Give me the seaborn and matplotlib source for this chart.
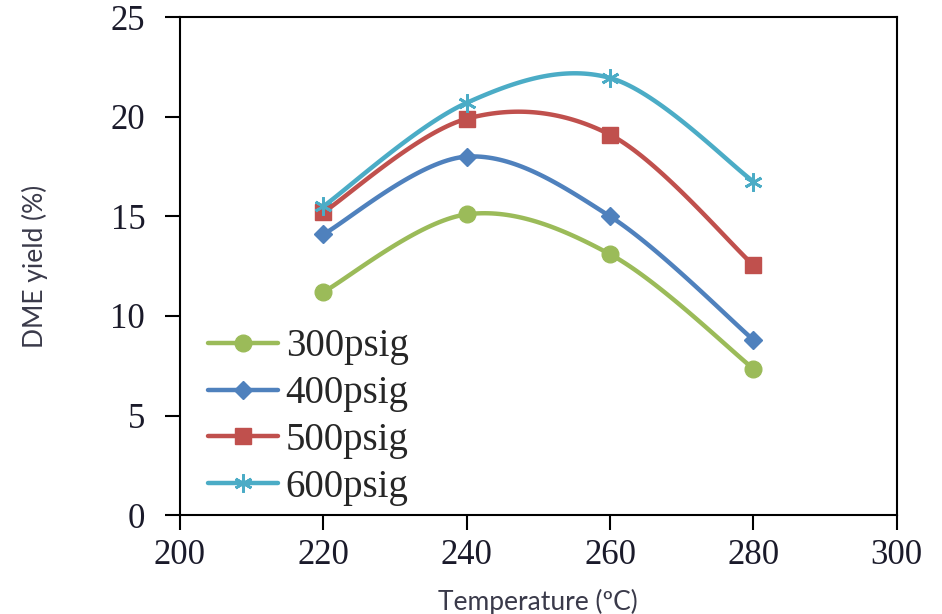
import numpy as np
import pandas as pd
import matplotlib
matplotlib.use("Agg")
import matplotlib.pyplot as plt
from matplotlib.lines import Line2D
import seaborn as sns

# values
temperature = [220, 240, 260, 280]
y_300 = [11.2, 15.1, 13.1, 7.35]
y_400 = [14.1, 18.0, 15.0, 8.8]
y_500 = [15.2, 19.9, 19.1, 12.55]
y_600 = [15.5, 20.7, 21.95, 16.75]
labels = ["300psig", "400psig", "500psig", "600psig"]
colors = ["#9BBB59", "#4F81BD", "#C0504D", "#4BACC6"]
markers = ["o", "D", "s", (6, 2, 0)]
msizes = [12, 9, 12, 13]


def smooth(xs, ys, n=40):
    # Excel-style smoothed line (Bezier through the points)
    p = np.column_stack([xs, ys]).astype(float)
    p = np.vstack([p[0], p, p[-1]])
    out = []
    for i in range(1, len(p) - 2):
        p0, p1, p2, p3 = p[i - 1], p[i], p[i + 1], p[i + 2]
        b1 = p1 + (p2 - p0) / 6
        b2 = p2 - (p3 - p1) / 6
        t = np.linspace(0, 1, n)[:, None]
        seg = ((1 - t) ** 3) * p1 + 3 * ((1 - t) ** 2) * t * b1 + 3 * (1 - t) * t ** 2 * b2 + t ** 3 * p2
        out.append(seg if i == 1 else seg[1:])
    out = np.vstack(out)
    return out[:, 0], out[:, 1]


sns.set_style("white")
fig = plt.figure(figsize=(9.42, 6.14), dpi=100)
ax = fig.add_axes([0.191, 0.161, 0.761, 0.811])

series = [y_300, y_400, y_500, y_600]
handles = []
for ys, lab, c, m, ms in zip(series, labels, colors, markers, msizes):
    sx, sy = smooth(temperature, ys)
    df = pd.DataFrame({"x": sx, "y": sy})
    sns.lineplot(data=df, x="x", y="y", sort=False, estimator=None, color=c, linewidth=3.2, ax=ax)
    ax.plot(temperature, ys, linestyle="none", marker=m, markersize=ms, color=c,
            markeredgecolor=c, markeredgewidth=2 if m == (6, 2, 0) else 1)
    handles.append(Line2D([0], [0], color=c, linewidth=3.2, marker=m, markersize=ms,
                          markeredgecolor=c, markeredgewidth=2 if m == (6, 2, 0) else 1))

ax.set_xlim(200, 300)
ax.set_ylim(0, 25)
ax.set_xticks([200, 220, 240, 260, 280, 300])
ax.set_yticks([0, 5, 10, 15, 20, 25])

for s in ax.spines.values():
    s.set_visible(True)
    s.set_color("black")
    s.set_linewidth(1.5)

ax.tick_params(axis="both", direction="out", length=11, width=1.5, color="black",
               labelsize=25, labelcolor="#1a1a2a", left=True, bottom=True)
ax.tick_params(axis="y", pad=14)
ax.tick_params(axis="x", pad=6)
for t in ax.get_xticklabels() + ax.get_yticklabels():
    t.set_fontfamily("Liberation Serif")

ax.set_xlabel("Temperature (ºC)", fontsize=19, family="Lato", color="#3a3a4a", labelpad=12)
ax.set_ylabel("DME yield (%)", fontsize=19, family="Lato", color="#3a3a4a", labelpad=45)

leg = ax.legend(handles, labels, loc="upper left", bbox_to_anchor=(0.039, 0.375),
                frameon=False, prop={"family": "Liberation Serif", "size": 28},
                handlelength=1.8, handletextpad=0.2, labelspacing=0.25, borderaxespad=0.0,
                borderpad=0.0)

fig.savefig("out.png", dpi=100)
